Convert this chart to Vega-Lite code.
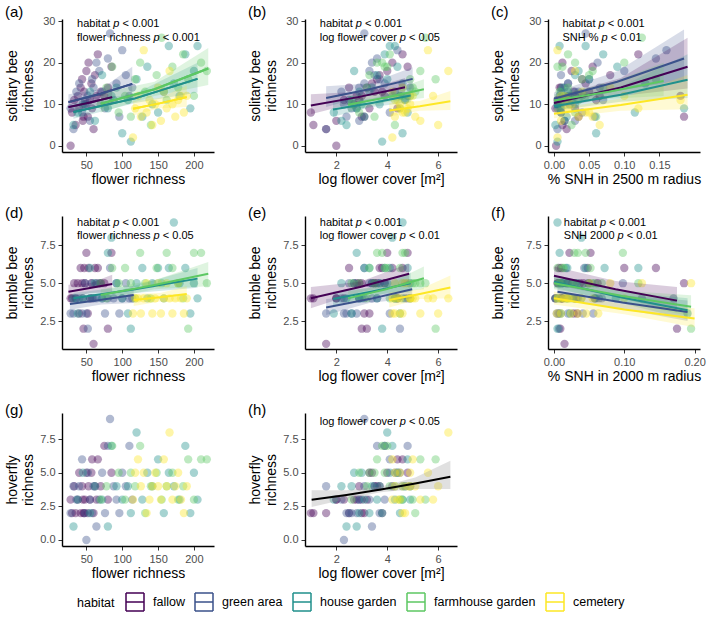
{
"$schema":"https://vega.github.io/schema/vega-lite/v6.json",
"padding":5,
"config":{
 "view":{"stroke":null},
 "font":"Liberation Sans",
 "axis":{"grid":false,"domainColor":"#000","domainWidth":1.4,"tickColor":"#333","tickSize":4,"labelColor":"#4d4d4d","labelFontSize":11,"labelPadding":3,"titleFontSize":14,"titleFontWeight":"normal","titleColor":"#000"},
 "axisY":{"minExtent":24,"maxExtent":24,"titlePadding":3,"titleLineHeight":16},
 "axisX":{"titlePadding":2},
 "title":{"fontSize":15,"fontWeight":"normal","anchor":"start","frame":"bounds","offset":-5,"color":"#000"}
},
"datasets":{
"sites":[
{"h":"fallow","fr":28,"fc":2.0,"s25":0.003,"s20":0.002,"sb":0,"bb":4,"hv":3},
{"h":"fallow","fr":30,"fc":1.0,"s25":0.01,"s20":0.01,"sb":8,"bb":4,"hv":2},
{"h":"fallow","fr":33,"fc":2.9,"s25":0.005,"s20":0.006,"sb":11,"bb":5,"hv":4},
{"h":"fallow","fr":35,"fc":1.1,"s25":0.012,"s20":0.01,"sb":5,"bb":4,"hv":2},
{"h":"fallow","fr":38,"fc":3.0,"s25":0.02,"s20":0.018,"sb":12,"bb":5,"hv":3},
{"h":"fallow","fr":40,"fc":3.3,"s25":0.03,"s20":0.028,"sb":9,"bb":3,"hv":5},
{"h":"fallow","fr":42,"fc":2.5,"s25":0.008,"s20":0.007,"sb":14,"bb":6,"hv":2},
{"h":"fallow","fr":44,"fc":3.6,"s25":0.04,"s20":0.037,"sb":16,"bb":5,"hv":4},
{"h":"fallow","fr":45,"fc":2.0,"s25":0.015,"s20":0.012,"sb":6,"bb":4,"hv":3},
{"h":"fallow","fr":47,"fc":3.8,"s25":0.05,"s20":0.048,"sb":13,"bb":6,"hv":2},
{"h":"fallow","fr":48,"fc":2.7,"s25":0.006,"s20":0.005,"sb":10,"bb":5,"hv":3},
{"h":"fallow","fr":50,"fc":4.0,"s25":0.025,"s20":0.022,"sb":18,"bb":7,"hv":5},
{"h":"fallow","fr":52,"fc":3.1,"s25":0.035,"s20":0.033,"sb":7,"bb":3,"hv":2},
{"h":"fallow","fr":53,"fc":4.2,"s25":0.012,"s20":0.01,"sb":20,"bb":6,"hv":4},
{"h":"fallow","fr":55,"fc":2.3,"s25":0.06,"s20":0.058,"sb":11,"bb":4,"hv":3},
{"h":"fallow","fr":57,"fc":3.4,"s25":0.045,"s20":0.042,"sb":15,"bb":5,"hv":5},
{"h":"fallow","fr":58,"fc":4.4,"s25":0.002,"s20":0.002,"sb":9,"bb":4,"hv":6},
{"h":"fallow","fr":60,"fc":1.6,"s25":0.018,"s20":0.015,"sb":4,"bb":1,"hv":2},
{"h":"fallow","fr":62,"fc":3.7,"s25":0.08,"s20":0.1,"sb":17,"bb":6,"hv":4},
{"h":"fallow","fr":64,"fc":2.8,"s25":0.065,"s20":0.062,"sb":12,"bb":5,"hv":3},
{"h":"fallow","fr":66,"fc":4.6,"s25":0.12,"s20":0.145,"sb":22,"bb":6,"hv":6},
{"h":"fallow","fr":70,"fc":3.5,"s25":0.028,"s20":0.026,"sb":13,"bb":5,"hv":4},
{"h":"fallow","fr":75,"fc":3.9,"s25":0.18,"s20":0.185,"sb":12,"bb":5,"hv":7},
{"h":"fallow","fr":80,"fc":3.2,"s25":0.01,"s20":0.009,"sb":14,"bb":2,"hv":3},
{"h":"fallow","fr":85,"fc":4.8,"s25":0.055,"s20":0.052,"sb":19,"bb":7,"hv":5},
{"h":"fallow","fr":46,"fc":3.0,"s25":0.185,"s20":0.175,"sb":7,"bb":2,"hv":2},
{"h":"green area","fr":28,"fc":2.8,"s25":0.01,"s20":0.008,"sb":9,"bb":3,"hv":2},
{"h":"green area","fr":32,"fc":1.6,"s25":0.005,"s20":0.004,"sb":4,"bb":3,"hv":4},
{"h":"green area","fr":36,"fc":2.2,"s25":0.03,"s20":0.032,"sb":13,"bb":4,"hv":3},
{"h":"green area","fr":40,"fc":3.1,"s25":0.02,"s20":0.018,"sb":15,"bb":4,"hv":4},
{"h":"green area","fr":44,"fc":4.1,"s25":0.04,"s20":0.041,"sb":8,"bb":3,"hv":6},
{"h":"green area","fr":48,"fc":2.5,"s25":0.012,"s20":0.011,"sb":11,"bb":5,"hv":2},
{"h":"green area","fr":64,"fc":3.4,"s25":0.062,"s20":0.06,"sb":20,"bb":4,"hv":1},
{"h":"green area","fr":52,"fc":4.5,"s25":0.008,"s20":0.007,"sb":12,"bb":2,"hv":5},
{"h":"green area","fr":55,"fc":2.9,"s25":0.03,"s20":0.029,"sb":6,"bb":4,"hv":3},
{"h":"green area","fr":58,"fc":3.7,"s25":0.05,"s20":0.049,"sb":16,"bb":5,"hv":2},
{"h":"green area","fr":60,"fc":4.9,"s25":0.015,"s20":0.013,"sb":14,"bb":4,"hv":4},
{"h":"green area","fr":50,"fc":2.3,"s25":0.022,"s20":0.02,"sb":10,"bb":3,"hv":0},
{"h":"green area","fr":68,"fc":3.3,"s25":0.1,"s20":0.098,"sb":18,"bb":5,"hv":3},
{"h":"green area","fr":72,"fc":4.3,"s25":0.035,"s20":0.034,"sb":13,"bb":4,"hv":5},
{"h":"green area","fr":76,"fc":2.6,"s25":0.005,"s20":0.006,"sb":9,"bb":3,"hv":2},
{"h":"green area","fr":80,"fc":3.6,"s25":0.145,"s20":0.125,"sb":21,"bb":4,"hv":7},
{"h":"green area","fr":83,"fc":3.1,"s25":0.045,"s20":0.043,"sb":27,"bb":6,"hv":9},
{"h":"green area","fr":88,"fc":4.7,"s25":0.07,"s20":0.068,"sb":11,"bb":4,"hv":4},
{"h":"green area","fr":92,"fc":3.9,"s25":0.02,"s20":0.019,"sb":15,"bb":5,"hv":3},
{"h":"green area","fr":96,"fc":2.4,"s25":0.058,"s20":0.056,"sb":7,"bb":3,"hv":2},
{"h":"green area","fr":100,"fc":4.4,"s25":0.16,"s20":0.17,"sb":23,"bb":4,"hv":5},
{"h":"green area","fr":105,"fc":3.5,"s25":0.01,"s20":0.01,"sb":17,"bb":5,"hv":4},
{"h":"green area","fr":110,"fc":4.8,"s25":0.03,"s20":0.031,"sb":12,"bb":4,"hv":7},
{"h":"green area","fr":114,"fc":2.9,"s25":0.065,"s20":0.064,"sb":14,"bb":4,"hv":3},
{"h":"house garden","fr":32,"fc":2.4,"s25":0.002,"s20":0.002,"sb":5,"bb":4,"hv":1},
{"h":"house garden","fr":38,"fc":1.9,"s25":0.01,"s20":0.01,"sb":8,"bb":3,"hv":3},
{"h":"house garden","fr":45,"fc":3.0,"s25":0.005,"s20":0.005,"sb":10,"bb":4,"hv":5},
{"h":"house garden","fr":55,"fc":3.3,"s25":0.02,"s20":0.019,"sb":13,"bb":6,"hv":2},
{"h":"house garden","fr":62,"fc":2.2,"s25":0.015,"s20":0.014,"sb":6,"bb":5,"hv":4},
{"h":"house garden","fr":72,"fc":3.6,"s25":0.03,"s20":0.029,"sb":17,"bb":4,"hv":3},
{"h":"house garden","fr":80,"fc":2.8,"s25":0.008,"s20":0.008,"sb":9,"bb":7,"hv":1},
{"h":"house garden","fr":85,"fc":4.2,"s25":0.04,"s20":0.039,"sb":12,"bb":8,"hv":7},
{"h":"house garden","fr":92,"fc":3.4,"s25":0.012,"s20":0.011,"sb":14,"bb":5,"hv":4},
{"h":"house garden","fr":100,"fc":4.6,"s25":0.06,"s20":0.058,"sb":3,"bb":4,"hv":3},
{"h":"house garden","fr":108,"fc":2.6,"s25":0.025,"s20":0.023,"sb":11,"bb":3,"hv":4},
{"h":"house garden","fr":112,"fc":3.8,"s25":0.005,"s20":0.005,"sb":1,"bb":2,"hv":2},
{"h":"house garden","fr":120,"fc":4.0,"s25":0.05,"s20":0.049,"sb":16,"bb":5,"hv":8},
{"h":"house garden","fr":128,"fc":3.1,"s25":0.018,"s20":0.017,"sb":7,"bb":6,"hv":3},
{"h":"house garden","fr":135,"fc":4.4,"s25":0.09,"s20":0.088,"sb":19,"bb":4,"hv":5},
{"h":"house garden","fr":142,"fc":3.7,"s25":0.03,"s20":0.03,"sb":10,"bb":5,"hv":4},
{"h":"house garden","fr":150,"fc":4.8,"s25":0.115,"s20":0.12,"sb":8,"bb":6,"hv":6},
{"h":"house garden","fr":158,"fc":2.9,"s25":0.01,"s20":0.011,"sb":13,"bb":4,"hv":2},
{"h":"house garden","fr":165,"fc":4.1,"s25":0.045,"s20":0.045,"sb":24,"bb":6,"hv":5},
{"h":"house garden","fr":172,"fc":4.6,"s25":0.13,"s20":0.005,"sb":15,"bb":9,"hv":4},
{"h":"house garden","fr":180,"fc":4.9,"s25":0.022,"s20":0.02,"sb":12,"bb":5,"hv":3},
{"h":"house garden","fr":188,"fc":3.9,"s25":0.07,"s20":0.072,"sb":22,"bb":6,"hv":7},
{"h":"house garden","fr":195,"fc":4.5,"s25":0.185,"s20":0.19,"sb":9,"bb":3,"hv":2},
{"h":"house garden","fr":200,"fc":2.7,"s25":0.035,"s20":0.033,"sb":18,"bb":5,"hv":5},
{"h":"house garden","fr":205,"fc":4.3,"s25":0.008,"s20":0.006,"sb":24,"bb":4,"hv":3},
{"h":"farmhouse garden","fr":70,"fc":2.6,"s25":0.01,"s20":0.009,"sb":10,"bb":5,"hv":3},
{"h":"farmhouse garden","fr":78,"fc":3.2,"s25":0.02,"s20":0.018,"sb":14,"bb":4,"hv":4},
{"h":"farmhouse garden","fr":86,"fc":4.0,"s25":0.005,"s20":0.005,"sb":19,"bb":6,"hv":7},
{"h":"farmhouse garden","fr":95,"fc":2.9,"s25":0.03,"s20":0.028,"sb":8,"bb":5,"hv":5},
{"h":"farmhouse garden","fr":104,"fc":4.5,"s25":0.015,"s20":0.014,"sb":12,"bb":6,"hv":3},
{"h":"farmhouse garden","fr":112,"fc":3.5,"s25":0.06,"s20":0.058,"sb":7,"bb":5,"hv":5},
{"h":"farmhouse garden","fr":118,"fc":4.9,"s25":0.04,"s20":0.039,"sb":16,"bb":4,"hv":4},
{"h":"farmhouse garden","fr":125,"fc":3.8,"s25":0.1,"s20":0.098,"sb":20,"bb":7,"hv":7},
{"h":"farmhouse garden","fr":132,"fc":5.1,"s25":0.008,"s20":0.007,"sb":13,"bb":5,"hv":2},
{"h":"farmhouse garden","fr":140,"fc":4.3,"s25":0.025,"s20":0.024,"sb":5,"bb":4,"hv":4},
{"h":"farmhouse garden","fr":148,"fc":3.3,"s25":0.05,"s20":0.052,"sb":17,"bb":6,"hv":5},
{"h":"farmhouse garden","fr":155,"fc":5.5,"s25":0.125,"s20":0.12,"sb":26,"bb":5,"hv":3},
{"h":"farmhouse garden","fr":162,"fc":4.7,"s25":0.035,"s20":0.034,"sb":11,"bb":7,"hv":4},
{"h":"farmhouse garden","fr":170,"fc":3.9,"s25":0.012,"s20":0.012,"sb":19,"bb":6,"hv":5},
{"h":"farmhouse garden","fr":178,"fc":5.0,"s25":0.07,"s20":0.068,"sb":14,"bb":5,"hv":3},
{"h":"farmhouse garden","fr":185,"fc":4.1,"s25":0.02,"s20":0.02,"sb":22,"bb":4,"hv":4},
{"h":"farmhouse garden","fr":192,"fc":5.9,"s25":0.145,"s20":0.195,"sb":16,"bb":2,"hv":6},
{"h":"farmhouse garden","fr":200,"fc":4.6,"s25":0.045,"s20":0.045,"sb":12,"bb":7,"hv":3},
{"h":"farmhouse garden","fr":210,"fc":3.6,"s25":0.03,"s20":0.029,"sb":20,"bb":7,"hv":6},
{"h":"farmhouse garden","fr":218,"fc":5.3,"s25":0.055,"s20":0.054,"sb":18,"bb":5,"hv":6},
{"h":"cemetery","fr":115,"fc":4.2,"s25":0.005,"s20":0.004,"sb":2,"bb":3,"hv":3},
{"h":"cemetery","fr":118,"fc":4.5,"s25":0.02,"s20":0.02,"sb":9,"bb":4,"hv":5},
{"h":"cemetery","fr":122,"fc":5.0,"s25":0.01,"s20":0.009,"sb":12,"bb":4,"hv":6},
{"h":"cemetery","fr":126,"fc":4.3,"s25":0.035,"s20":0.034,"sb":7,"bb":3,"hv":4},
{"h":"cemetery","fr":130,"fc":5.6,"s25":0.005,"s20":0.005,"sb":23,"bb":4,"hv":5},
{"h":"cemetery","fr":134,"fc":4.7,"s25":0.05,"s20":0.05,"sb":8,"bb":5,"hv":2},
{"h":"cemetery","fr":138,"fc":4.4,"s25":0.02,"s20":0.021,"sb":11,"bb":4,"hv":3},
{"h":"cemetery","fr":142,"fc":6.0,"s25":0.065,"s20":0.063,"sb":5,"bb":3,"hv":4},
{"h":"cemetery","fr":146,"fc":4.9,"s25":0.015,"s20":0.014,"sb":10,"bb":4,"hv":5},
{"h":"cemetery","fr":150,"fc":4.6,"s25":0.08,"s20":0.08,"sb":14,"bb":5,"hv":4},
{"h":"cemetery","fr":154,"fc":5.3,"s25":0.01,"s20":0.01,"sb":6,"bb":3,"hv":3},
{"h":"cemetery","fr":158,"fc":4.2,"s25":0.04,"s20":0.039,"sb":13,"bb":4,"hv":6},
{"h":"cemetery","fr":162,"fc":4.8,"s25":0.12,"s20":0.125,"sb":9,"bb":5,"hv":4},
{"h":"cemetery","fr":166,"fc":6.4,"s25":0.03,"s20":0.03,"sb":18,"bb":4,"hv":8},
{"h":"cemetery","fr":170,"fc":4.5,"s25":0.025,"s20":0.024,"sb":10,"bb":3,"hv":3},
{"h":"cemetery","fr":174,"fc":5.1,"s25":0.055,"s20":0.055,"sb":7,"bb":4,"hv":4},
{"h":"cemetery","fr":178,"fc":4.3,"s25":0.18,"s20":0.195,"sb":11,"bb":5,"hv":5},
{"h":"cemetery","fr":182,"fc":5.8,"s25":0.015,"s20":0.016,"sb":12,"bb":4,"hv":3},
{"h":"cemetery","fr":186,"fc":4.6,"s25":0.045,"s20":0.046,"sb":8,"bb":3,"hv":2},
{"h":"cemetery","fr":190,"fc":4.9,"s25":0.1,"s20":0.1,"sb":12,"bb":4,"hv":4}
],
"fits":[
{"p":"a","h":"fallow","x":25,"fit":9.3,"lo":7.8,"hi":11.0},{"p":"a","h":"fallow","x":55,"fit":10.4,"lo":9.5,"hi":11.4},{"p":"a","h":"fallow","x":86,"fit":11.7,"lo":9.8,"hi":14.0},
{"p":"a","h":"green area","x":25,"fit":10.5,"lo":8.9,"hi":12.4},{"p":"a","h":"green area","x":70,"fit":12.5,"lo":11.5,"hi":13.6},{"p":"a","h":"green area","x":114,"fit":14.9,"lo":11.6,"hi":19.0},
{"p":"a","h":"house garden","x":32,"fit":8.1,"lo":6.5,"hi":10.1},{"p":"a","h":"house garden","x":118,"fit":11.4,"lo":10.3,"hi":12.6},{"p":"a","h":"house garden","x":205,"fit":16.1,"lo":12.8,"hi":20.0},
{"p":"a","h":"farmhouse garden","x":70,"fit":10.1,"lo":8.0,"hi":12.7},{"p":"a","h":"farmhouse garden","x":145,"fit":13.6,"lo":12.0,"hi":15.4},{"p":"a","h":"farmhouse garden","x":220,"fit":18.6,"lo":14.6,"hi":23.5},
{"p":"a","h":"cemetery","x":115,"fit":8.9,"lo":7.3,"hi":10.8},{"p":"a","h":"cemetery","x":152,"fit":10.2,"lo":9.0,"hi":11.5},{"p":"a","h":"cemetery","x":190,"fit":11.7,"lo":9.3,"hi":14.5},
{"p":"b","h":"fallow","x":1.0,"fit":9.7,"lo":7.6,"hi":12.4},{"p":"b","h":"fallow","x":2.85,"fit":11.7,"lo":10.5,"hi":13.0},{"p":"b","h":"fallow","x":4.7,"fit":14.1,"lo":12.2,"hi":16.3},
{"p":"b","h":"green area","x":1.6,"fit":11.5,"lo":9.3,"hi":14.3},{"p":"b","h":"green area","x":3.3,"fit":13.6,"lo":12.3,"hi":15.0},{"p":"b","h":"green area","x":5.0,"fit":16.1,"lo":13.7,"hi":18.9},
{"p":"b","h":"house garden","x":1.87,"fit":8.7,"lo":7.0,"hi":10.9},{"p":"b","h":"house garden","x":3.4,"fit":10.3,"lo":9.3,"hi":11.4},{"p":"b","h":"house garden","x":4.92,"fit":12.1,"lo":10.5,"hi":14.0},
{"p":"b","h":"farmhouse garden","x":2.46,"fit":9.85,"lo":8.1,"hi":12.0},{"p":"b","h":"farmhouse garden","x":3.95,"fit":11.6,"lo":10.5,"hi":12.8},{"p":"b","h":"farmhouse garden","x":5.44,"fit":13.6,"lo":11.5,"hi":16.0},
{"p":"b","h":"cemetery","x":4.08,"fit":8.5,"lo":7.0,"hi":10.3},{"p":"b","h":"cemetery","x":5.28,"fit":9.5,"lo":8.4,"hi":10.8},{"p":"b","h":"cemetery","x":6.48,"fit":10.7,"lo":8.6,"hi":13.2},
{"p":"c","h":"green area","x":0,"fit":11.3,"lo":10.0,"hi":12.8},{"p":"c","h":"green area","x":0.09,"fit":15.4,"lo":13.2,"hi":17.9},{"p":"c","h":"green area","x":0.185,"fit":21,"lo":15.8,"hi":28},
{"p":"c","h":"fallow","x":0,"fit":10.3,"lo":9.1,"hi":11.7},{"p":"c","h":"fallow","x":0.095,"fit":14.0,"lo":12.0,"hi":16.3},{"p":"c","h":"fallow","x":0.19,"fit":19.0,"lo":13.8,"hi":26},
{"p":"c","h":"house garden","x":0,"fit":9.5,"lo":8.4,"hi":10.8},{"p":"c","h":"house garden","x":0.095,"fit":12.3,"lo":10.6,"hi":14.2},{"p":"c","h":"house garden","x":0.19,"fit":15.9,"lo":11.5,"hi":22},
{"p":"c","h":"farmhouse garden","x":0,"fit":10.9,"lo":9.6,"hi":12.4},{"p":"c","h":"farmhouse garden","x":0.078,"fit":13.0,"lo":11.3,"hi":15.0},{"p":"c","h":"farmhouse garden","x":0.156,"fit":15.6,"lo":12.0,"hi":20},
{"p":"c","h":"cemetery","x":0,"fit":7.7,"lo":6.6,"hi":8.9},{"p":"c","h":"cemetery","x":0.095,"fit":9.8,"lo":8.4,"hi":11.4},{"p":"c","h":"cemetery","x":0.19,"fit":12.3,"lo":8.8,"hi":17},
{"p":"d","h":"fallow","x":25,"fit":4.44,"lo":4.0,"hi":4.9},{"p":"d","h":"fallow","x":55,"fit":4.68,"lo":4.35,"hi":5.0},{"p":"d","h":"fallow","x":86,"fit":4.95,"lo":4.4,"hi":5.55},
{"p":"d","h":"green area","x":27,"fit":3.62,"lo":3.25,"hi":4.05},{"p":"d","h":"green area","x":71,"fit":3.9,"lo":3.6,"hi":4.2},{"p":"d","h":"green area","x":116,"fit":4.22,"lo":3.7,"hi":4.8},
{"p":"d","h":"house garden","x":32,"fit":4.0,"lo":3.7,"hi":4.35},{"p":"d","h":"house garden","x":118,"fit":4.6,"lo":4.35,"hi":4.85},{"p":"d","h":"house garden","x":205,"fit":5.3,"lo":4.7,"hi":6.0},
{"p":"d","h":"farmhouse garden","x":70,"fit":4.22,"lo":3.85,"hi":4.6},{"p":"d","h":"farmhouse garden","x":145,"fit":4.88,"lo":4.6,"hi":5.2},{"p":"d","h":"farmhouse garden","x":220,"fit":5.62,"lo":4.8,"hi":6.4},
{"p":"d","h":"cemetery","x":116,"fit":3.89,"lo":3.5,"hi":4.3},{"p":"d","h":"cemetery","x":153,"fit":4.08,"lo":3.8,"hi":4.35},{"p":"d","h":"cemetery","x":190,"fit":4.29,"lo":3.8,"hi":4.8},
{"p":"e","h":"fallow","x":1.0,"fit":4.0,"lo":3.35,"hi":4.75},{"p":"e","h":"fallow","x":2.93,"fit":4.75,"lo":4.4,"hi":5.1},{"p":"e","h":"fallow","x":4.86,"fit":5.62,"lo":5.0,"hi":6.3},
{"p":"e","h":"green area","x":1.6,"fit":3.4,"lo":2.9,"hi":3.95},{"p":"e","h":"green area","x":3.3,"fit":3.95,"lo":3.7,"hi":4.2},{"p":"e","h":"green area","x":4.98,"fit":4.6,"lo":4.0,"hi":5.25},
{"p":"e","h":"house garden","x":1.87,"fit":3.95,"lo":3.5,"hi":4.45},{"p":"e","h":"house garden","x":3.4,"fit":4.45,"lo":4.2,"hi":4.7},{"p":"e","h":"house garden","x":4.92,"fit":5.0,"lo":4.4,"hi":5.7},
{"p":"e","h":"farmhouse garden","x":2.46,"fit":4.0,"lo":3.6,"hi":4.45},{"p":"e","h":"farmhouse garden","x":3.95,"fit":4.6,"lo":4.35,"hi":4.9},{"p":"e","h":"farmhouse garden","x":5.44,"fit":5.33,"lo":4.6,"hi":6.1},
{"p":"e","h":"cemetery","x":4.08,"fit":3.89,"lo":3.4,"hi":4.4},{"p":"e","h":"cemetery","x":5.28,"fit":4.28,"lo":3.95,"hi":4.6},{"p":"e","h":"cemetery","x":6.48,"fit":4.71,"lo":4.0,"hi":5.5},
{"p":"f","h":"fallow","x":0,"fit":5.49,"lo":4.9,"hi":6.1},{"p":"f","h":"fallow","x":0.0875,"fit":4.6,"lo":4.1,"hi":5.15},{"p":"f","h":"fallow","x":0.175,"fit":3.85,"lo":3.1,"hi":4.75},
{"p":"f","h":"green area","x":0.005,"fit":4.44,"lo":3.95,"hi":4.95},{"p":"f","h":"green area","x":0.0975,"fit":3.72,"lo":3.3,"hi":4.2},{"p":"f","h":"green area","x":0.19,"fit":3.1,"lo":2.5,"hi":3.85},
{"p":"f","h":"house garden","x":0,"fit":5.1,"lo":4.7,"hi":5.5},{"p":"f","h":"house garden","x":0.095,"fit":4.07,"lo":3.7,"hi":4.45},{"p":"f","h":"house garden","x":0.19,"fit":3.22,"lo":2.6,"hi":4.0},
{"p":"f","h":"farmhouse garden","x":0,"fit":5.0,"lo":4.6,"hi":5.4},{"p":"f","h":"farmhouse garden","x":0.0975,"fit":4.15,"lo":3.8,"hi":4.5},{"p":"f","h":"farmhouse garden","x":0.195,"fit":3.44,"lo":2.8,"hi":4.2},
{"p":"f","h":"cemetery","x":0,"fit":4.0,"lo":3.6,"hi":4.45},{"p":"f","h":"cemetery","x":0.1,"fit":3.27,"lo":2.95,"hi":3.6},{"p":"f","h":"cemetery","x":0.2,"fit":2.67,"lo":2.1,"hi":3.35},
{"p":"h","h":"all","x":1.03,"fit":3.0,"lo":2.45,"hi":3.7},{"p":"h","h":"all","x":2.4,"fit":3.35,"lo":3.05,"hi":3.7},{"p":"h","h":"all","x":3.75,"fit":3.75,"lo":3.55,"hi":3.97},{"p":"h","h":"all","x":5.1,"fit":4.2,"lo":3.8,"hi":4.65},{"p":"h","h":"all","x":6.48,"fit":4.7,"lo":3.8,"hi":5.9}
],
"ann":[
{"p":"a","t":"habitat","x":37,"y":29.2,"it":0},{"p":"a","t":"p","x":87.4,"y":29.2,"it":1},{"p":"a","t":"< 0.001","x":100.3,"y":29.2,"it":0},
{"p":"a","t":"flower richness","x":37,"y":26.0,"it":0},{"p":"a","t":"p","x":143.7,"y":26.0,"it":1},{"p":"a","t":"< 0.001","x":156.6,"y":26.0,"it":0},
{"p":"b","t":"habitat","x":1.35,"y":29.2,"it":0},{"p":"b","t":"p","x":2.768,"y":29.2,"it":1},{"p":"b","t":"< 0.001","x":3.129,"y":29.2,"it":0},
{"p":"b","t":"log flower cover","x":1.35,"y":26.0,"it":0},{"p":"b","t":"p","x":4.496,"y":26.0,"it":1},{"p":"b","t":"< 0.05","x":4.858,"y":26.0,"it":0},
{"p":"c","t":"habitat","x":0.012,"y":29.2,"it":0},{"p":"c","t":"p","x":0.0633,"y":29.2,"it":1},{"p":"c","t":"< 0.001","x":0.0764,"y":29.2,"it":0},
{"p":"c","t":"SNH %","x":0.012,"y":26.0,"it":0},{"p":"c","t":"p","x":0.0676,"y":26.0,"it":1},{"p":"c","t":"< 0.01","x":0.0807,"y":26.0,"it":0},
{"p":"d","t":"habitat","x":37,"y":8.95,"it":0},{"p":"d","t":"p","x":87.4,"y":8.95,"it":1},{"p":"d","t":"< 0.001","x":100.3,"y":8.95,"it":0},
{"p":"d","t":"flower richness","x":37,"y":8.1,"it":0},{"p":"d","t":"p","x":143.7,"y":8.1,"it":1},{"p":"d","t":"< 0.05","x":156.6,"y":8.1,"it":0},
{"p":"e","t":"habitat","x":1.35,"y":8.95,"it":0},{"p":"e","t":"p","x":2.768,"y":8.95,"it":1},{"p":"e","t":"< 0.001","x":3.129,"y":8.95,"it":0},
{"p":"e","t":"log flower cover","x":1.35,"y":8.1,"it":0},{"p":"e","t":"p","x":4.496,"y":8.1,"it":1},{"p":"e","t":"< 0.01","x":4.858,"y":8.1,"it":0},
{"p":"f","t":"habitat","x":0.014,"y":8.95,"it":0},{"p":"f","t":"p","x":0.0653,"y":8.95,"it":1},{"p":"f","t":"< 0.001","x":0.0784,"y":8.95,"it":0},
{"p":"f","t":"SNH 2000","x":0.014,"y":8.1,"it":0},{"p":"f","t":"p","x":0.0905,"y":8.1,"it":1},{"p":"f","t":"< 0.01","x":0.1036,"y":8.1,"it":0},
{"p":"h","t":"log flower cover","x":1.35,"y":8.8,"it":0},{"p":"h","t":"p","x":4.496,"y":8.8,"it":1},{"p":"h","t":"< 0.05","x":4.858,"y":8.8,"it":0}
]
},
"vconcat":[
{"hconcat":[
{"width":152,"height":133,"title":"(a)","layer":[
 {"data":{"name":"fits"},"transform":[{"filter":"datum.p=='a'"}],"mark":{"type":"line","strokeWidth":2},"encoding":{
  "x":{"field":"x","type":"quantitative","title":"flower richness","scale":{"domain":[16,228],"nice":false,"zero":false},"axis":{"values":[50,100,150,200]}},
  "y":{"field":"fit","type":"quantitative","title":["solitary bee","richness"],"scale":{"domain":[-1.5,30.5],"nice":false,"zero":false},"axis":{"values":[0,10,20,30]}},
  "color":{"field":"h","type":"nominal","scale":{"domain":["fallow","green area","house garden","farmhouse garden","cemetery"],"range":["#440154","#3B528B","#21908C","#5DC863","#FDE725"]},
   "legend":{"orient":"none","legendX":15,"legendY":573,"direction":"horizontal","padding":0,"title":"habitat","titleOrient":"left","titleFontSize":12.5,"titleFontWeight":"normal","titleColor":"#000","titlePadding":10,"labelFontSize":12.5,"labelColor":"#000","labelOffset":8,"columnPadding":7,"symbolType":"M-1,-1H1 M1,-1V1 M1,1H-1 M-1,1V-1 M-1,0H1","symbolSize":324,"symbolStrokeWidth":1.5}}}},
 {"data":{"name":"sites"},"mark":{"type":"circle","size":70,"opacity":0.4},"encoding":{
  "x":{"field":"fr","type":"quantitative","title":"flower richness","scale":{"domain":[16,228],"nice":false,"zero":false},"axis":{"values":[50,100,150,200]}},
  "y":{"field":"sb","type":"quantitative","title":["solitary bee","richness"],"scale":{"domain":[-1.5,30.5],"nice":false,"zero":false},"axis":{"values":[0,10,20,30]}},
  "color":{"field":"h","type":"nominal","legend":null}}},
 {"data":{"name":"fits"},"transform":[{"filter":"datum.p=='a'"}],"mark":{"type":"area","opacity":0.2},"encoding":{
  "x":{"field":"x","type":"quantitative","title":"flower richness","scale":{"domain":[16,228],"nice":false,"zero":false}},
  "y":{"field":"lo","type":"quantitative","stack":null,"title":["solitary bee","richness"],"scale":{"domain":[-1.5,30.5],"nice":false,"zero":false}},
  "y2":{"field":"hi"},
  "color":{"field":"h","type":"nominal","legend":null}}},
 {"data":{"name":"fits"},"transform":[{"filter":"datum.p=='a'"}],"mark":{"type":"line","strokeWidth":2},"encoding":{
  "x":{"field":"x","type":"quantitative","title":"flower richness","scale":{"domain":[16,228],"nice":false,"zero":false}},
  "y":{"field":"fit","type":"quantitative","title":["solitary bee","richness"],"scale":{"domain":[-1.5,30.5],"nice":false,"zero":false}},
  "color":{"field":"h","type":"nominal","legend":null}}},
 {"data":{"name":"ann"},"transform":[{"filter":"datum.p=='a' && datum.it==0"}],"mark":{"type":"text","align":"left","baseline":"middle","fontSize":11,"color":"#000"},"encoding":{
  "x":{"field":"x","type":"quantitative","title":"flower richness","scale":{"domain":[16,228],"nice":false,"zero":false}},
  "y":{"field":"y","type":"quantitative","title":["solitary bee","richness"],"scale":{"domain":[-1.5,30.5],"nice":false,"zero":false}},
  "text":{"field":"t"}}},
 {"data":{"name":"ann"},"transform":[{"filter":"datum.p=='a' && datum.it==1"}],"mark":{"type":"text","align":"left","baseline":"middle","fontSize":11,"fontStyle":"italic","color":"#000"},"encoding":{
  "x":{"field":"x","type":"quantitative","title":"flower richness","scale":{"domain":[16,228],"nice":false,"zero":false}},
  "y":{"field":"y","type":"quantitative","title":["solitary bee","richness"],"scale":{"domain":[-1.5,30.5],"nice":false,"zero":false}},
  "text":{"field":"t"}}}
]},
{"width":152,"height":133,"title":"(b)","layer":[
 {"data":{"name":"sites"},"mark":{"type":"circle","size":70,"opacity":0.4},"encoding":{
  "x":{"field":"fc","type":"quantitative","title":"log flower cover [m²]","scale":{"domain":[0.77,6.74],"nice":false,"zero":false},"axis":{"values":[2,4,6]}},
  "y":{"field":"sb","type":"quantitative","title":["solitary bee","richness"],"scale":{"domain":[-1.5,30.5],"nice":false,"zero":false},"axis":{"values":[0,10,20,30]}},
  "color":{"field":"h","type":"nominal","legend":null}}},
 {"data":{"name":"fits"},"transform":[{"filter":"datum.p=='b'"}],"mark":{"type":"area","opacity":0.2},"encoding":{
  "x":{"field":"x","type":"quantitative","title":"log flower cover [m²]","scale":{"domain":[0.77,6.74],"nice":false,"zero":false}},
  "y":{"field":"lo","type":"quantitative","stack":null,"title":["solitary bee","richness"],"scale":{"domain":[-1.5,30.5],"nice":false,"zero":false}},
  "y2":{"field":"hi"},
  "color":{"field":"h","type":"nominal","legend":null}}},
 {"data":{"name":"fits"},"transform":[{"filter":"datum.p=='b'"}],"mark":{"type":"line","strokeWidth":2},"encoding":{
  "x":{"field":"x","type":"quantitative","title":"log flower cover [m²]","scale":{"domain":[0.77,6.74],"nice":false,"zero":false}},
  "y":{"field":"fit","type":"quantitative","title":["solitary bee","richness"],"scale":{"domain":[-1.5,30.5],"nice":false,"zero":false}},
  "color":{"field":"h","type":"nominal","legend":null}}},
 {"data":{"name":"ann"},"transform":[{"filter":"datum.p=='b' && datum.it==0"}],"mark":{"type":"text","align":"left","baseline":"middle","fontSize":11,"color":"#000"},"encoding":{
  "x":{"field":"x","type":"quantitative","title":"log flower cover [m²]","scale":{"domain":[0.77,6.74],"nice":false,"zero":false}},
  "y":{"field":"y","type":"quantitative","title":["solitary bee","richness"],"scale":{"domain":[-1.5,30.5],"nice":false,"zero":false}},
  "text":{"field":"t"}}},
 {"data":{"name":"ann"},"transform":[{"filter":"datum.p=='b' && datum.it==1"}],"mark":{"type":"text","align":"left","baseline":"middle","fontSize":11,"fontStyle":"italic","color":"#000"},"encoding":{
  "x":{"field":"x","type":"quantitative","title":"log flower cover [m²]","scale":{"domain":[0.77,6.74],"nice":false,"zero":false}},
  "y":{"field":"y","type":"quantitative","title":["solitary bee","richness"],"scale":{"domain":[-1.5,30.5],"nice":false,"zero":false}},
  "text":{"field":"t"}}}
]},
{"width":152,"height":133,"title":"(c)","layer":[
 {"data":{"name":"sites"},"mark":{"type":"circle","size":70,"opacity":0.4},"encoding":{
  "x":{"field":"s25","type":"quantitative","title":"% SNH in 2500 m radius","scale":{"domain":[-0.0085,0.2077],"nice":false,"zero":false},"axis":{"values":[0,0.05,0.1,0.15],"format":".2f"}},
  "y":{"field":"sb","type":"quantitative","title":["solitary bee","richness"],"scale":{"domain":[-1.5,30.5],"nice":false,"zero":false},"axis":{"values":[0,10,20,30]}},
  "color":{"field":"h","type":"nominal","legend":null}}},
 {"data":{"name":"fits"},"transform":[{"filter":"datum.p=='c'"}],"mark":{"type":"area","opacity":0.2},"encoding":{
  "x":{"field":"x","type":"quantitative","title":"% SNH in 2500 m radius","scale":{"domain":[-0.0085,0.2077],"nice":false,"zero":false}},
  "y":{"field":"lo","type":"quantitative","stack":null,"title":["solitary bee","richness"],"scale":{"domain":[-1.5,30.5],"nice":false,"zero":false}},
  "y2":{"field":"hi"},
  "color":{"field":"h","type":"nominal","legend":null}}},
 {"data":{"name":"fits"},"transform":[{"filter":"datum.p=='c'"}],"mark":{"type":"line","strokeWidth":2},"encoding":{
  "x":{"field":"x","type":"quantitative","title":"% SNH in 2500 m radius","scale":{"domain":[-0.0085,0.2077],"nice":false,"zero":false}},
  "y":{"field":"fit","type":"quantitative","title":["solitary bee","richness"],"scale":{"domain":[-1.5,30.5],"nice":false,"zero":false}},
  "color":{"field":"h","type":"nominal","legend":null}}},
 {"data":{"name":"ann"},"transform":[{"filter":"datum.p=='c' && datum.it==0"}],"mark":{"type":"text","align":"left","baseline":"middle","fontSize":11,"color":"#000"},"encoding":{
  "x":{"field":"x","type":"quantitative","title":"% SNH in 2500 m radius","scale":{"domain":[-0.0085,0.2077],"nice":false,"zero":false}},
  "y":{"field":"y","type":"quantitative","title":["solitary bee","richness"],"scale":{"domain":[-1.5,30.5],"nice":false,"zero":false}},
  "text":{"field":"t"}}},
 {"data":{"name":"ann"},"transform":[{"filter":"datum.p=='c' && datum.it==1"}],"mark":{"type":"text","align":"left","baseline":"middle","fontSize":11,"fontStyle":"italic","color":"#000"},"encoding":{
  "x":{"field":"x","type":"quantitative","title":"% SNH in 2500 m radius","scale":{"domain":[-0.0085,0.2077],"nice":false,"zero":false}},
  "y":{"field":"y","type":"quantitative","title":["solitary bee","richness"],"scale":{"domain":[-1.5,30.5],"nice":false,"zero":false}},
  "text":{"field":"t"}}}
]}
],"spacing":34},
{"hconcat":[
{"width":152,"height":133,"title":"(d)","layer":[
 {"data":{"name":"sites"},"mark":{"type":"circle","size":70,"opacity":0.4},"encoding":{
  "x":{"field":"fr","type":"quantitative","title":"flower richness","scale":{"domain":[16,228],"nice":false,"zero":false},"axis":{"values":[50,100,150,200]}},
  "y":{"field":"bb","type":"quantitative","title":["bumble bee","richness"],"scale":{"domain":[0.66,9.43],"nice":false,"zero":false},"axis":{"values":[2.5,5,7.5],"format":".1f"}},
  "color":{"field":"h","type":"nominal","legend":null}}},
 {"data":{"name":"fits"},"transform":[{"filter":"datum.p=='d'"}],"mark":{"type":"area","opacity":0.2},"encoding":{
  "x":{"field":"x","type":"quantitative","title":"flower richness","scale":{"domain":[16,228],"nice":false,"zero":false}},
  "y":{"field":"lo","type":"quantitative","stack":null,"title":["bumble bee","richness"],"scale":{"domain":[0.66,9.43],"nice":false,"zero":false}},
  "y2":{"field":"hi"},
  "color":{"field":"h","type":"nominal","legend":null}}},
 {"data":{"name":"fits"},"transform":[{"filter":"datum.p=='d'"}],"mark":{"type":"line","strokeWidth":2},"encoding":{
  "x":{"field":"x","type":"quantitative","title":"flower richness","scale":{"domain":[16,228],"nice":false,"zero":false}},
  "y":{"field":"fit","type":"quantitative","title":["bumble bee","richness"],"scale":{"domain":[0.66,9.43],"nice":false,"zero":false}},
  "color":{"field":"h","type":"nominal","legend":null}}},
 {"data":{"name":"ann"},"transform":[{"filter":"datum.p=='d' && datum.it==0"}],"mark":{"type":"text","align":"left","baseline":"middle","fontSize":11,"color":"#000"},"encoding":{
  "x":{"field":"x","type":"quantitative","title":"flower richness","scale":{"domain":[16,228],"nice":false,"zero":false}},
  "y":{"field":"y","type":"quantitative","title":["bumble bee","richness"],"scale":{"domain":[0.66,9.43],"nice":false,"zero":false}},
  "text":{"field":"t"}}},
 {"data":{"name":"ann"},"transform":[{"filter":"datum.p=='d' && datum.it==1"}],"mark":{"type":"text","align":"left","baseline":"middle","fontSize":11,"fontStyle":"italic","color":"#000"},"encoding":{
  "x":{"field":"x","type":"quantitative","title":"flower richness","scale":{"domain":[16,228],"nice":false,"zero":false}},
  "y":{"field":"y","type":"quantitative","title":["bumble bee","richness"],"scale":{"domain":[0.66,9.43],"nice":false,"zero":false}},
  "text":{"field":"t"}}}
]},
{"width":152,"height":133,"title":"(e)","layer":[
 {"data":{"name":"sites"},"mark":{"type":"circle","size":70,"opacity":0.4},"encoding":{
  "x":{"field":"fc","type":"quantitative","title":"log flower cover [m²]","scale":{"domain":[0.77,6.74],"nice":false,"zero":false},"axis":{"values":[2,4,6]}},
  "y":{"field":"bb","type":"quantitative","title":["bumble bee","richness"],"scale":{"domain":[0.66,9.43],"nice":false,"zero":false},"axis":{"values":[2.5,5,7.5],"format":".1f"}},
  "color":{"field":"h","type":"nominal","legend":null}}},
 {"data":{"name":"fits"},"transform":[{"filter":"datum.p=='e'"}],"mark":{"type":"area","opacity":0.2},"encoding":{
  "x":{"field":"x","type":"quantitative","title":"log flower cover [m²]","scale":{"domain":[0.77,6.74],"nice":false,"zero":false}},
  "y":{"field":"lo","type":"quantitative","stack":null,"title":["bumble bee","richness"],"scale":{"domain":[0.66,9.43],"nice":false,"zero":false}},
  "y2":{"field":"hi"},
  "color":{"field":"h","type":"nominal","legend":null}}},
 {"data":{"name":"fits"},"transform":[{"filter":"datum.p=='e'"}],"mark":{"type":"line","strokeWidth":2},"encoding":{
  "x":{"field":"x","type":"quantitative","title":"log flower cover [m²]","scale":{"domain":[0.77,6.74],"nice":false,"zero":false}},
  "y":{"field":"fit","type":"quantitative","title":["bumble bee","richness"],"scale":{"domain":[0.66,9.43],"nice":false,"zero":false}},
  "color":{"field":"h","type":"nominal","legend":null}}},
 {"data":{"name":"ann"},"transform":[{"filter":"datum.p=='e' && datum.it==0"}],"mark":{"type":"text","align":"left","baseline":"middle","fontSize":11,"color":"#000"},"encoding":{
  "x":{"field":"x","type":"quantitative","title":"log flower cover [m²]","scale":{"domain":[0.77,6.74],"nice":false,"zero":false}},
  "y":{"field":"y","type":"quantitative","title":["bumble bee","richness"],"scale":{"domain":[0.66,9.43],"nice":false,"zero":false}},
  "text":{"field":"t"}}},
 {"data":{"name":"ann"},"transform":[{"filter":"datum.p=='e' && datum.it==1"}],"mark":{"type":"text","align":"left","baseline":"middle","fontSize":11,"fontStyle":"italic","color":"#000"},"encoding":{
  "x":{"field":"x","type":"quantitative","title":"log flower cover [m²]","scale":{"domain":[0.77,6.74],"nice":false,"zero":false}},
  "y":{"field":"y","type":"quantitative","title":["bumble bee","richness"],"scale":{"domain":[0.66,9.43],"nice":false,"zero":false}},
  "text":{"field":"t"}}}
]},
{"width":152,"height":133,"title":"(f)","layer":[
 {"data":{"name":"sites"},"mark":{"type":"circle","size":70,"opacity":0.4},"encoding":{
  "x":{"field":"s20","type":"quantitative","title":"% SNH in 2000 m radius","scale":{"domain":[-0.0085,0.2077],"nice":false,"zero":false},"axis":{"values":[0,0.05,0.1,0.15,0.2],"format":".2f"}},
  "y":{"field":"bb","type":"quantitative","title":["bumble bee","richness"],"scale":{"domain":[0.66,9.43],"nice":false,"zero":false},"axis":{"values":[2.5,5,7.5],"format":".1f"}},
  "color":{"field":"h","type":"nominal","legend":null}}},
 {"data":{"name":"fits"},"transform":[{"filter":"datum.p=='f'"}],"mark":{"type":"area","opacity":0.2},"encoding":{
  "x":{"field":"x","type":"quantitative","title":"% SNH in 2000 m radius","scale":{"domain":[-0.0085,0.2077],"nice":false,"zero":false}},
  "y":{"field":"lo","type":"quantitative","stack":null,"title":["bumble bee","richness"],"scale":{"domain":[0.66,9.43],"nice":false,"zero":false}},
  "y2":{"field":"hi"},
  "color":{"field":"h","type":"nominal","legend":null}}},
 {"data":{"name":"fits"},"transform":[{"filter":"datum.p=='f'"}],"mark":{"type":"line","strokeWidth":2},"encoding":{
  "x":{"field":"x","type":"quantitative","title":"% SNH in 2000 m radius","scale":{"domain":[-0.0085,0.2077],"nice":false,"zero":false}},
  "y":{"field":"fit","type":"quantitative","title":["bumble bee","richness"],"scale":{"domain":[0.66,9.43],"nice":false,"zero":false}},
  "color":{"field":"h","type":"nominal","legend":null}}},
 {"data":{"name":"ann"},"transform":[{"filter":"datum.p=='f' && datum.it==0"}],"mark":{"type":"text","align":"left","baseline":"middle","fontSize":11,"color":"#000"},"encoding":{
  "x":{"field":"x","type":"quantitative","title":"% SNH in 2000 m radius","scale":{"domain":[-0.0085,0.2077],"nice":false,"zero":false}},
  "y":{"field":"y","type":"quantitative","title":["bumble bee","richness"],"scale":{"domain":[0.66,9.43],"nice":false,"zero":false}},
  "text":{"field":"t"}}},
 {"data":{"name":"ann"},"transform":[{"filter":"datum.p=='f' && datum.it==1"}],"mark":{"type":"text","align":"left","baseline":"middle","fontSize":11,"fontStyle":"italic","color":"#000"},"encoding":{
  "x":{"field":"x","type":"quantitative","title":"% SNH in 2000 m radius","scale":{"domain":[-0.0085,0.2077],"nice":false,"zero":false}},
  "y":{"field":"y","type":"quantitative","title":["bumble bee","richness"],"scale":{"domain":[0.66,9.43],"nice":false,"zero":false}},
  "text":{"field":"t"}}}
]}
],"spacing":34},
{"hconcat":[
{"width":152,"height":133,"title":"(g)","layer":[
 {"data":{"name":"sites"},"mark":{"type":"circle","size":70,"opacity":0.4},"encoding":{
  "x":{"field":"fr","type":"quantitative","title":"flower richness","scale":{"domain":[16,228],"nice":false,"zero":false},"axis":{"values":[50,100,150,200]}},
  "y":{"field":"hv","type":"quantitative","title":["hoverfly","richness"],"scale":{"domain":[-0.45,9.45],"nice":false,"zero":false},"axis":{"values":[0,2.5,5,7.5],"format":".1f"}},
  "color":{"field":"h","type":"nominal","legend":null}}}
]},
{"width":152,"height":133,"title":"(h)","layer":[
 {"data":{"name":"sites"},"mark":{"type":"circle","size":70,"opacity":0.4},"encoding":{
  "x":{"field":"fc","type":"quantitative","title":"log flower cover [m²]","scale":{"domain":[0.77,6.74],"nice":false,"zero":false},"axis":{"values":[2,4,6]}},
  "y":{"field":"hv","type":"quantitative","title":["hoverfly","richness"],"scale":{"domain":[-0.45,9.45],"nice":false,"zero":false},"axis":{"values":[0,2.5,5,7.5],"format":".1f"}},
  "color":{"field":"h","type":"nominal","legend":null}}},
 {"data":{"name":"fits"},"transform":[{"filter":"datum.p=='h'"}],"mark":{"type":"area","opacity":0.3,"color":"#999999"},"encoding":{
  "x":{"field":"x","type":"quantitative","title":"log flower cover [m²]","scale":{"domain":[0.77,6.74],"nice":false,"zero":false}},
  "y":{"field":"lo","type":"quantitative","stack":null,"title":["hoverfly","richness"],"scale":{"domain":[-0.45,9.45],"nice":false,"zero":false}},
  "y2":{"field":"hi"}}},
 {"data":{"name":"fits"},"transform":[{"filter":"datum.p=='h'"}],"mark":{"type":"line","strokeWidth":2,"color":"#000"},"encoding":{
  "x":{"field":"x","type":"quantitative","title":"log flower cover [m²]","scale":{"domain":[0.77,6.74],"nice":false,"zero":false}},
  "y":{"field":"fit","type":"quantitative","title":["hoverfly","richness"],"scale":{"domain":[-0.45,9.45],"nice":false,"zero":false}}}},
 {"data":{"name":"ann"},"transform":[{"filter":"datum.p=='h' && datum.it==0"}],"mark":{"type":"text","align":"left","baseline":"middle","fontSize":11,"color":"#000"},"encoding":{
  "x":{"field":"x","type":"quantitative","title":"log flower cover [m²]","scale":{"domain":[0.77,6.74],"nice":false,"zero":false}},
  "y":{"field":"y","type":"quantitative","title":["hoverfly","richness"],"scale":{"domain":[-0.45,9.45],"nice":false,"zero":false}},
  "text":{"field":"t"}}},
 {"data":{"name":"ann"},"transform":[{"filter":"datum.p=='h' && datum.it==1"}],"mark":{"type":"text","align":"left","baseline":"middle","fontSize":11,"fontStyle":"italic","color":"#000"},"encoding":{
  "x":{"field":"x","type":"quantitative","title":"log flower cover [m²]","scale":{"domain":[0.77,6.74],"nice":false,"zero":false}},
  "y":{"field":"y","type":"quantitative","title":["hoverfly","richness"],"scale":{"domain":[-0.45,9.45],"nice":false,"zero":false}},
  "text":{"field":"t"}}}
]}
],"spacing":34}
],
"spacing":20
}
